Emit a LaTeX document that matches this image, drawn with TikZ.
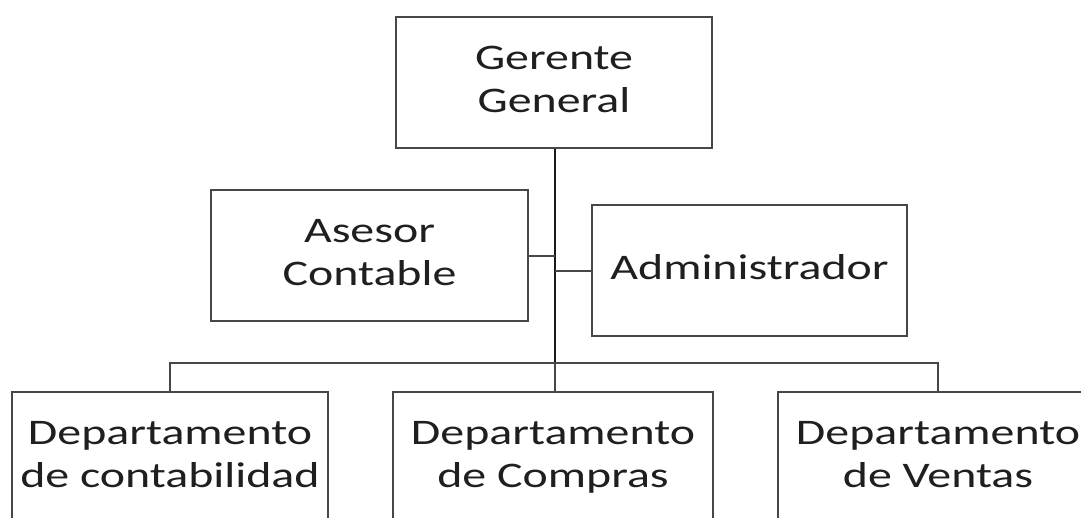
\documentclass[tikz,border=0pt]{standalone}
\usepackage{fontspec}
\setmainfont[FakeStretch=1.33]{Carlito}
\begin{document}
\begin{tikzpicture}[x=1pt,y=-1pt,
  box/.style={draw=black!72, line width=2pt, fill=white, align=center, inner sep=0pt,
    minimum height=131pt, font=\fontsize{36}{43.5}\selectfont, text=black!88},
  link/.style={draw=black!72, line width=2pt},
  trunk/.style={draw=black!90, line width=2.4pt}]
\useasboundingbox (0,0) rectangle (1081,517);
\clip (0,0) rectangle (1081,517);
\node[box, minimum width=316pt] (gg) at (554,82.5) {Gerente\strut\\General\strut};
\node[box, minimum width=317pt] (as) at (369.5,255.5) {Asesor\strut\\Contable\strut};
\node[box, minimum width=315pt] (ad) at (749.5,270.5) {Administrador\strut};
\node[box, minimum width=316pt] (d1) at (170,457.5) {Departamento\strut\\de contabilidad\strut};
\node[box, minimum width=320pt] (d2) at (553,457.5) {Departamento\strut\\de Compras\strut};
\node[box, minimum width=320pt] (d3) at (938,457.5) {Departamento\strut\\de Ventas\strut};
\coordinate (j) at (555,363);
\draw[trunk] (gg.south -| j) -- (j);
\draw[link] (as.east) -- (as.east -| j);
\draw[link] (ad.west) -- (ad.west -| j);
\draw[link] (d1.north) |- (j) -| (d3.north);
\draw[link] (j) -- (j |- d2.north);
\end{tikzpicture}
\end{document}
